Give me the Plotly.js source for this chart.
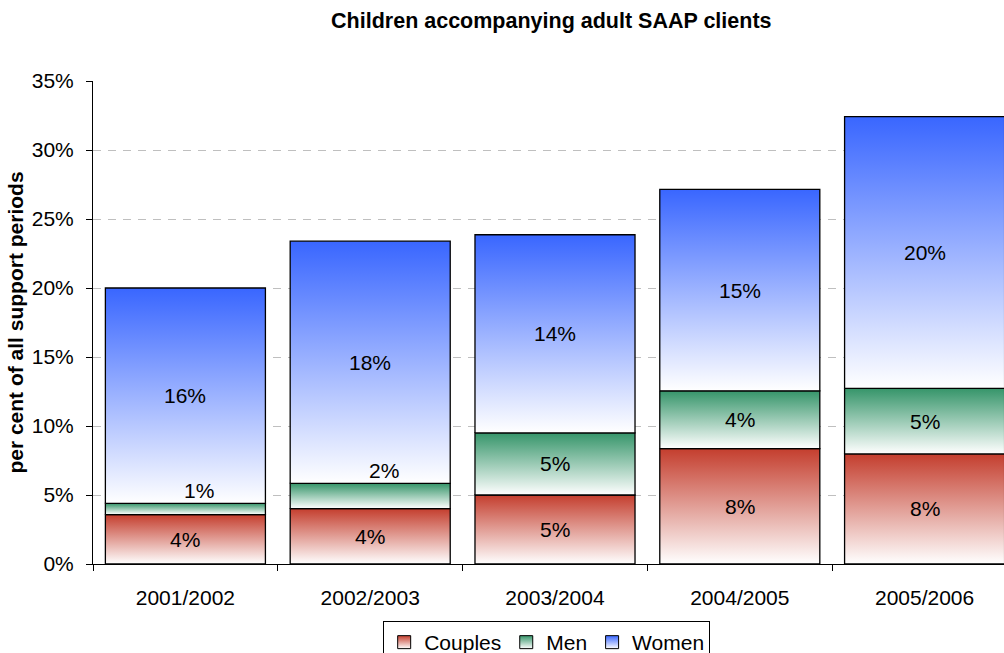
<!DOCTYPE html>
<html><head><meta charset="utf-8">
<script src="https://cdn.plot.ly/plotly-3.0.1.min.js"></script>
<style>html,body{margin:0;padding:0;overflow:hidden;background:#fff}#chart{width:1030px;height:653px}</style>
</head><body><div id="chart"></div>
<script>
// ---- data ----
const categories = ['2001/2002', '2002/2003', '2003/2004', '2004/2005', '2005/2006'];
const seriesNames = ['Couples', 'Men', 'Women'];
const couples = [3.58, 4.01, 5.0, 8.36, 7.98];
const men = [0.81, 1.83, 4.5, 4.19, 4.74];
const women = [15.61, 17.55, 14.36, 14.6, 19.7];
const yTickVals = [0, 5, 10, 15, 20, 25, 30, 35];

// ---- style ----
const seriesValues = [couples, men, women];
const seriesColors = ['#C43E2E', '#36956A', '#3966FF'];
const FONT = 'Liberation Sans, Arial, sans-serif';
const BAR_W = 0.866;

const traces = [];
const annotations = [];
const base = categories.map(() => 0);

seriesValues.forEach((vals, s) => {
  vals.forEach((v, i) => {
    const b = base[i], t = b + v;
    const x0 = i - BAR_W / 2, x1 = i + BAR_W / 2;
    traces.push({
      type: 'scatter', mode: 'lines',
      x: [x0, x1, x1, x0, x0],
      y: [b, b, t, t, b],
      fill: 'toself',
      fillgradient: {type: 'vertical', colorscale: [[0, '#ffffff'], [1, seriesColors[s]]]},
      line: {color: '#000000', width: 1.3},
      hoverinfo: 'skip', showlegend: false
    });
    const small = v < 2;
    annotations.push({
      x: i, y: small ? t : b + v / 2, xref: 'x', yref: 'y',
      text: Math.round(v) + '%', showarrow: false,
      xshift: small ? 14 : 0, yshift: small ? 13 : 0,
      font: {family: FONT, size: 21, color: '#000'}
    });
    base[i] = t;
  });
});

// legend entries
seriesNames.forEach((name, s) => {
  traces.push({
    type: 'scatter', mode: 'markers', name: name,
    x: [null], y: [null],
    marker: {symbol: 'square', size: 13, color: seriesColors[s],
             gradient: {type: 'vertical', color: '#ffffff'},
             line: {color: '#000', width: 1}},
    hoverinfo: 'skip', showlegend: true
  });
});

const boundaries = [];
for (let k = 0; k <= categories.length; k++) boundaries.push(k - 0.5);

const layout = {
  width: 1030, height: 653,
  margin: {l: 93, r: 13, t: 81, b: 89, autoexpand: false},
  paper_bgcolor: '#fff', plot_bgcolor: '#fff',
  font: {family: FONT, size: 21, color: '#000'},
  title: {
    text: 'Children accompanying adult SAAP clients',
    font: {family: FONT, size: 21.5, weight: 'bold', color: '#000'},
    x: 0.496, xref: 'paper', xanchor: 'center',
    y: 1 - 20 / 653, yref: 'container', yanchor: 'middle'
  },
  xaxis: {
    range: [-0.5, categories.length - 0.5],
    tickvals: categories.map((c, i) => i), ticktext: categories,
    ticks: '', showline: true, linecolor: '#000', linewidth: 1,
    showgrid: false, zeroline: false, ticklabelstandoff: 15,
    tickfont: {family: FONT, size: 21},
    minor: {tickvals: boundaries, ticks: 'outside', ticklen: 6, tickcolor: '#000', tickwidth: 1, showgrid: false}
  },
  yaxis: {
    range: [0, 35], tickvals: yTickVals, ticktext: yTickVals.map(v => v + '%'),
    ticks: 'outside', ticklen: 6, tickcolor: '#000',
    showline: true, linecolor: '#000', linewidth: 1,
    showgrid: true, gridcolor: '#BFBFBF', griddash: '8px,7px', gridwidth: 1,
    zeroline: false, ticklabelstandoff: 8,
    tickfont: {family: FONT, size: 21},
    title: {text: 'per cent of all support periods', standoff: 2,
            font: {family: FONT, size: 21, weight: 'bold', color: '#000'}}
  },
  legend: {
    orientation: 'h', x: 0.491, xanchor: 'center',
    y: 1 - 621 / 653, yref: 'container', yanchor: 'top',
    bordercolor: '#000', borderwidth: 1, bgcolor: '#fff',
    font: {family: FONT, size: 21}, itemwidth: 30, traceorder: 'normal'
  },
  annotations: annotations,
  showlegend: true
};

Plotly.newPlot('chart', traces, layout, {displayModeBar: false, staticPlot: true});
</script>
</body></html>
